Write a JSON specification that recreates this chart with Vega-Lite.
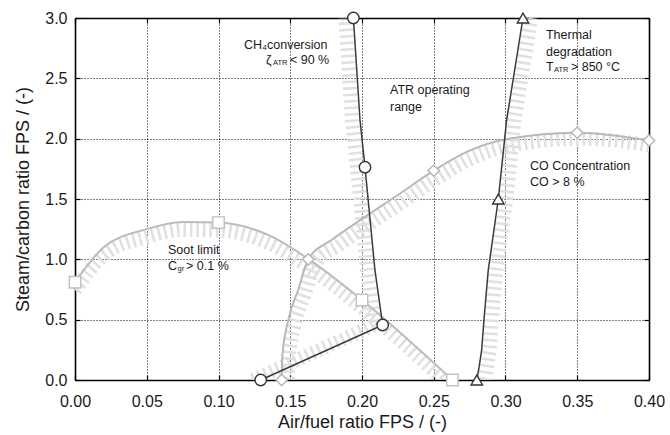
{
  "$schema": "https://vega.github.io/schema/vega-lite/v6.json",
  "width": 574,
  "height": 362,
  "autosize": "none",
  "padding": {"left": 75, "top": 18, "right": 21, "bottom": 55},
  "background": "white",
  "config": {"view": {"stroke": null}, "font": "Liberation Sans"},
  "datasets": {
    "curves": [
      {"series": "CH4", "o": 1, "x": 0.1294, "y": 0},
      {"series": "CH4", "o": 2, "x": 0.2144, "y": 0.456},
      {"series": "CH4", "o": 3, "x": 0.209, "y": 0.912},
      {"series": "CH4", "o": 4, "x": 0.2021, "y": 1.763},
      {"series": "CH4", "o": 5, "x": 0.1986, "y": 2.155},
      {"series": "CH4", "o": 6, "x": 0.194, "y": 3.0},
      {"series": "Thermal", "o": 1, "x": 0.28, "y": 0},
      {"series": "Thermal", "o": 2, "x": 0.2815, "y": 0.1},
      {"series": "Thermal", "o": 3, "x": 0.2834, "y": 0.25},
      {"series": "Thermal", "o": 4, "x": 0.285, "y": 0.5},
      {"series": "Thermal", "o": 5, "x": 0.288, "y": 0.912},
      {"series": "Thermal", "o": 6, "x": 0.295, "y": 1.5},
      {"series": "Thermal", "o": 7, "x": 0.3008, "y": 2.155},
      {"series": "Thermal", "o": 8, "x": 0.3122, "y": 3.0},
      {"series": "CO", "o": 1, "x": 0.144, "y": 0},
      {"series": "CO", "o": 2, "x": 0.1445, "y": 0.2},
      {"series": "CO", "o": 3, "x": 0.1487, "y": 0.5},
      {"series": "CO", "o": 4, "x": 0.1556, "y": 0.75},
      {"series": "CO", "o": 5, "x": 0.1626, "y": 1.0},
      {"series": "CO", "o": 6, "x": 0.18, "y": 1.17},
      {"series": "CO", "o": 7, "x": 0.2, "y": 1.335},
      {"series": "CO", "o": 8, "x": 0.224, "y": 1.525},
      {"series": "CO", "o": 9, "x": 0.25, "y": 1.735},
      {"series": "CO", "o": 10, "x": 0.273, "y": 1.89},
      {"series": "CO", "o": 11, "x": 0.3, "y": 1.995},
      {"series": "CO", "o": 12, "x": 0.35, "y": 2.05},
      {"series": "CO", "o": 13, "x": 0.4, "y": 1.985},
      {"series": "Soot", "o": 1, "x": 0.0, "y": 0.81},
      {"series": "Soot", "o": 2, "x": 0.02, "y": 1.1},
      {"series": "Soot", "o": 3, "x": 0.05, "y": 1.25},
      {"series": "Soot", "o": 4, "x": 0.075, "y": 1.31},
      {"series": "Soot", "o": 5, "x": 0.1, "y": 1.305},
      {"series": "Soot", "o": 6, "x": 0.135, "y": 1.2},
      {"series": "Soot", "o": 7, "x": 0.163, "y": 1.0},
      {"series": "Soot", "o": 8, "x": 0.2, "y": 0.663},
      {"series": "Soot", "o": 9, "x": 0.263, "y": 0}
    ],
    "markers": [
      {"series": "CH4", "x": 0.1294, "y": 0},
      {"series": "CH4", "x": 0.2144, "y": 0.456},
      {"series": "CH4", "x": 0.2021, "y": 1.763},
      {"series": "CH4", "x": 0.194, "y": 3.0},
      {"series": "Thermal", "x": 0.28, "y": 0},
      {"series": "Thermal", "x": 0.295, "y": 1.5},
      {"series": "Thermal", "x": 0.3122, "y": 3.0},
      {"series": "CO", "x": 0.144, "y": 0},
      {"series": "CO", "x": 0.1626, "y": 1.0},
      {"series": "CO", "x": 0.25, "y": 1.735},
      {"series": "CO", "x": 0.35, "y": 2.05},
      {"series": "CO", "x": 0.4, "y": 1.985},
      {"series": "Soot", "x": 0.0, "y": 0.81},
      {"series": "Soot", "x": 0.1, "y": 1.305},
      {"series": "Soot", "x": 0.2, "y": 0.663},
      {"series": "Soot", "x": 0.263, "y": 0}
    ],
    "labels": [
      {"x": 0.1178, "y": 2.776, "text": "CH"},
      {"x": 0.1338, "y": 2.776, "text": "conversion"},
      {"x": 0.1331, "y": 2.652, "text": "ζ"},
      {"x": 0.1498, "y": 2.652, "text": "< 90 %"},
      {"x": 0.2195, "y": 2.403, "text": "ATR operating"},
      {"x": 0.2195, "y": 2.262, "text": "range"},
      {"x": 0.3282, "y": 2.859, "text": "Thermal"},
      {"x": 0.3282, "y": 2.718, "text": "degradation"},
      {"x": 0.3282, "y": 2.594, "text": "T"},
      {"x": 0.3456, "y": 2.594, "text": "> 850 °C"},
      {"x": 0.3171, "y": 1.773, "text": "CO Concentration"},
      {"x": 0.3171, "y": 1.641, "text": "CO > 8 %"},
      {"x": 0.0648, "y": 1.077, "text": "Soot limit"},
      {"x": 0.0648, "y": 0.945, "text": "C"},
      {"x": 0.0774, "y": 0.945, "text": "> 0.1 %"}
    ],
    "subs": [
      {"x": 0.1307, "y": 2.751, "text": "4"},
      {"x": 0.1380, "y": 2.627, "text": "ATR"},
      {"x": 0.3338, "y": 2.569, "text": "ATR"},
      {"x": 0.0714, "y": 0.92, "text": "gr"}
    ]
  },
  "encoding": {
    "x": {"field": "x", "type": "quantitative", "scale": {"domain": [0, 0.4], "nice": false, "zero": false}, "axis": null},
    "y": {"field": "y", "type": "quantitative", "scale": {"domain": [0, 3], "nice": false, "zero": false}, "axis": null}
  },
  "layer": [
    {
      "data": {"name": "curves"},
      "transform": [{"filter": "datum.series === 'Soot'"}],
      "mark": {"type": "line", "interpolate": "monotone", "clip": true, "stroke": "#e0e0e0", "strokeWidth": 14, "strokeDash": [2.5, 4], "yOffset": 8},
      "encoding": {
        "order": {"field": "o"},
        "x": {"field": "x", "type": "quantitative", "scale": {"domain": [0, 0.4], "nice": false, "zero": false},
          "axis": {"orient": "bottom", "values": [0, 0.05, 0.1, 0.15, 0.2, 0.25, 0.3, 0.35, 0.4], "format": ".2f", "title": "Air/fuel ratio FPS / (-)",
            "grid": true, "gridColor": "#000", "gridDash": [1, 2], "gridWidth": 1,
            "domainColor": "#000", "domainWidth": 1.6, "tickColor": "#000", "tickSize": -5, "tickWidth": 1.2,
            "labelFontSize": 16, "labelColor": "#1a1a1a", "labelPadding": 18, "labelFont": "Liberation Sans", "labelFlush": false, "labelOverlap": false,
            "titleFont": "Liberation Sans", "titleFontSize": 18, "titleFontWeight": "normal", "titleColor": "#1a1a1a", "titlePadding": 4}},
        "y": {"field": "y", "type": "quantitative", "scale": {"domain": [0, 3], "nice": false, "zero": false},
          "axis": {"orient": "left", "values": [0, 0.5, 1, 1.5, 2, 2.5, 3], "format": ".1f", "title": "Steam/carbon ratio FPS / (-)",
            "grid": true, "gridColor": "#000", "gridDash": [1, 2], "gridWidth": 1,
            "domainColor": "#000", "domainWidth": 1.6, "tickColor": "#000", "tickSize": -5, "tickWidth": 1.2,
            "labelFontSize": 16, "labelColor": "#1a1a1a", "labelPadding": 13, "labelFont": "Liberation Sans", "labelFlush": false, "labelOverlap": false,
            "titleFont": "Liberation Sans", "titleFontSize": 18, "titleFontWeight": "normal", "titleColor": "#1a1a1a", "titlePadding": 12}}
      }
    },
    {
      "data": {"name": "curves"},
      "transform": [{"filter": "datum.series === 'CO'"}],
      "mark": {"type": "line", "interpolate": "monotone", "clip": true, "stroke": "#e0e0e0", "strokeWidth": 14, "strokeDash": [2.5, 4], "xOffset": 6, "yOffset": 6},
      "encoding": {"order": {"field": "o"}}
    },
    {
      "data": {"name": "curves"},
      "transform": [{"filter": "datum.series === 'CH4'"}],
      "mark": {"type": "line", "interpolate": "linear", "clip": true, "stroke": "#e0e0e0", "strokeWidth": 14, "strokeDash": [2.5, 4], "xOffset": -8},
      "encoding": {"order": {"field": "o"}}
    },
    {
      "data": {"name": "curves"},
      "transform": [{"filter": "datum.series === 'Thermal'"}],
      "mark": {"type": "line", "interpolate": "linear", "clip": true, "stroke": "#e0e0e0", "strokeWidth": 14, "strokeDash": [2.5, 4], "xOffset": 8},
      "encoding": {"order": {"field": "o"}}
    },
    {
      "data": {"name": "curves"},
      "transform": [{"filter": "datum.series === 'Soot'"}],
      "mark": {"type": "line", "interpolate": "monotone", "stroke": "#bcbcbc", "strokeWidth": 2},
      "encoding": {"order": {"field": "o"}}
    },
    {
      "data": {"name": "curves"},
      "transform": [{"filter": "datum.series === 'CO'"}],
      "mark": {"type": "line", "interpolate": "monotone", "stroke": "#b8b8b8", "strokeWidth": 2},
      "encoding": {"order": {"field": "o"}}
    },
    {
      "data": {"name": "curves"},
      "transform": [{"filter": "datum.series === 'CH4'"}],
      "mark": {"type": "line", "interpolate": "linear", "stroke": "#3a3a3a", "strokeWidth": 1.5},
      "encoding": {"order": {"field": "o"}}
    },
    {
      "data": {"name": "curves"},
      "transform": [{"filter": "datum.series === 'Thermal'"}],
      "mark": {"type": "line", "interpolate": "linear", "stroke": "#3a3a3a", "strokeWidth": 1.5},
      "encoding": {"order": {"field": "o"}}
    },
    {
      "data": {"name": "markers"},
      "mark": {"type": "point", "filled": false, "fill": "white", "fillOpacity": 1, "strokeWidth": 1.4, "size": 130, "opacity": 1},
      "encoding": {
        "x": {"field": "x", "type": "quantitative", "scale": {"domain": [0, 0.4], "nice": false, "zero": false},
          "axis": {"orient": "top", "values": [0, 0.05, 0.1, 0.15, 0.2, 0.25, 0.3, 0.35, 0.4], "labels": false, "title": null, "grid": false,
            "domainColor": "#000", "domainWidth": 1.6, "tickColor": "#000", "tickSize": -5, "tickWidth": 1.2}},
        "y": {"field": "y", "type": "quantitative", "scale": {"domain": [0, 3], "nice": false, "zero": false},
          "axis": {"orient": "right", "values": [0, 0.5, 1, 1.5, 2, 2.5, 3], "labels": false, "title": null, "grid": false,
            "domainColor": "#000", "domainWidth": 1.6, "tickColor": "#000", "tickSize": -5, "tickWidth": 1.2}},
        "shape": {"field": "series", "type": "nominal", "legend": null,
          "scale": {"domain": ["CH4", "Thermal", "CO", "Soot"], "range": ["circle", "triangle-up", "diamond", "square"]}},
        "stroke": {"field": "series", "type": "nominal", "legend": null,
          "scale": {"domain": ["CH4", "Thermal", "CO", "Soot"], "range": ["#333333", "#333333", "#b5b5b5", "#c0c0c0"]}}
      }
    },
    {
      "data": {"name": "labels"},
      "mark": {"type": "text", "align": "left", "baseline": "middle", "fontSize": 12.5, "font": "Liberation Sans", "color": "#1a1a1a"},
      "encoding": {"text": {"field": "text"}}
    },
    {
      "data": {"name": "subs"},
      "mark": {"type": "text", "align": "left", "baseline": "middle", "fontSize": 7.5, "font": "Liberation Sans", "color": "#1a1a1a"},
      "encoding": {"text": {"field": "text"}}
    }
  ],
  "resolve": {"axis": {"x": "independent", "y": "independent"}}
}
